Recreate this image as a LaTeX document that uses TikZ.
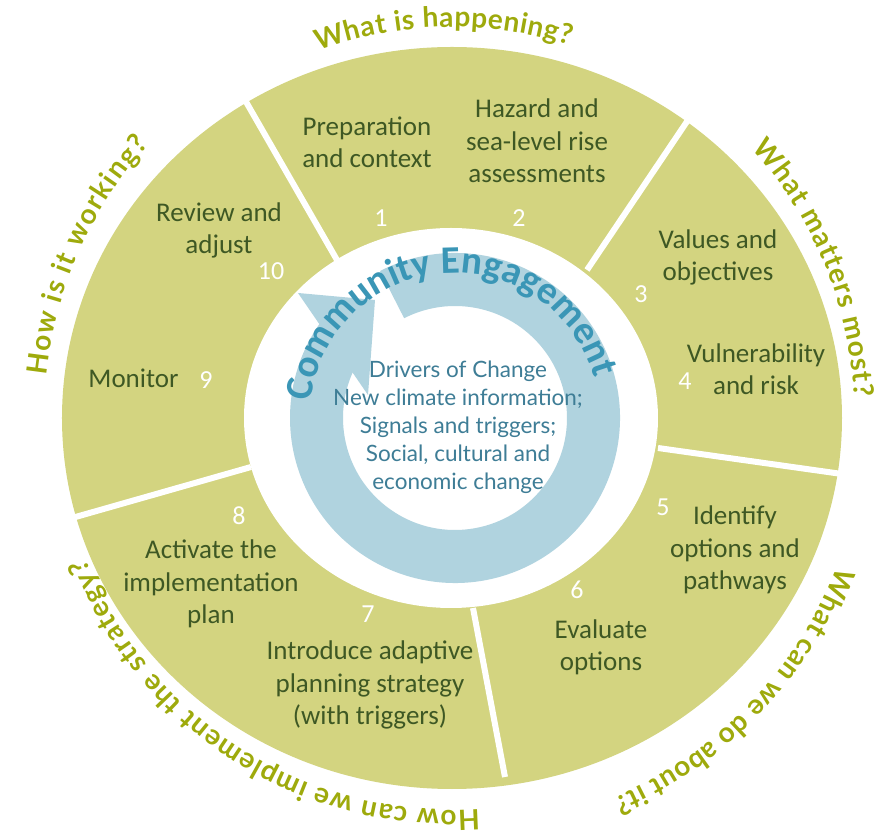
\documentclass[tikz,border=0pt]{standalone}
\usepackage{fontspec}
\setmainfont{Carlito}
\newfontfamily\latofont{Lato}
\usetikzlibrary{calc,decorations.text}

\definecolor{sectorfill}{RGB}{211,212,128}
\definecolor{labelgreen}{RGB}{62,88,36}
\definecolor{questolive}{RGB}{158,170,12}
\definecolor{ringblue}{RGB}{176,211,223}
\definecolor{engageblue}{RGB}{58,150,182}
\definecolor{drivertext}{RGB}{62,125,150}

\newcommand{\questfont}{\latofont\bfseries\fontsize{28}{32}\selectfont\color{questolive}}
\newcommand{\engagefont}{\bfseries\fontsize{39}{46}\selectfont\color{engageblue}}

\tikzset{
  steplabel/.style={text=labelgreen, align=center, inner sep=0pt, font=\fontsize{27}{32.5}\selectfont},
  stepnum/.style={text=white, inner sep=0pt, font=\fontsize{26}{32}\selectfont},
  divider/.style={white, line width=6pt},
  question/.style={decorate, decoration={text along path, text align={fit to path}, text={|\questfont|#1}}}
}

\begin{document}
\begin{tikzpicture}[x=1pt,y=1pt]
		\useasboundingbox (-452,-416) rectangle (434,418);
		
		\coordinate (ctr) at (0,0);
		\coordinate (hole) at (-1,0);
		\coordinate (loop) at (3,0);
		
		% Outer ring with white hole
		\fill[sectorfill] (ctr) ellipse [x radius=390, y radius=371];
		\fill[white] (hole) ellipse [x radius=207, y radius=190];
		
		% Dividers between the steps
		\coordinate (d1in) at (-115,158);
		\coordinate (d1out) at (-207,318);
		\coordinate (d2in) at (135,148);
		\coordinate (d2out) at (236,298);
		\coordinate (d3in) at (206,-30);
		\coordinate (d3out) at (390,-56);
		\coordinate (d4in) at (21,-190);
		\coordinate (d4out) at (53,-359);
		\coordinate (d5in) at (-201,-49);
		\coordinate (d5out) at (-380,-100);
		
		\draw[divider] (d1in) -- (d1out);
		\draw[divider] (d2in) -- (d2out);
		\draw[divider] (d3in) -- (d3out);
		\draw[divider] (d4in) -- (d4out);
		\draw[divider] (d5in) -- (d5out);
		
		% Engagement loop with its head
		\fill[ringblue] ($(loop)+(117:165)$) arc[start angle=117, end angle=-215, radius=165]
			-- ($(loop)+(145:112)$) arc[start angle=145, end angle=477, radius=112] -- cycle;
		\fill[ringblue] ($(loop)+(-157,125)$) -- ($(loop)+(-80,118)$) -- ($(loop)+(-87,23)$) -- cycle;
		
		\path[decorate, decoration={text along path, text align=center, text={|\engagefont|Community Engagement}}]
			($(loop)+(186:145)$) arc[start angle=186, end angle=3, radius=145];
		
		% Questions round the outside
		\path[question={What is happening?}] (110:391) arc[start angle=110, end angle=72.5, radius=391];
		\path[question={What matters most?}] (42:403) arc[start angle=42, end angle=3, radius=403];
		\path[question={What can we do about it?}] (-21:413) arc[start angle=-21, end angle=-67, radius=413];
		\path[question={How can we implement the strategy?}] (-86:392) arc[start angle=-86, end angle=-159, radius=392];
		\path[question={How is it working?}] (174:408) arc[start angle=174, end angle=138, radius=408];
		
		% Step labels
		\node[steplabel] (prep) at (-85,275.5) {Preparation\\and context};
		\node[steplabel] (hazard) at (85,277) {Hazard and\\sea-level rise\\assessments};
		\node[steplabel] (values) at (266,160.5) {Values and\\objectives};
		\node[steplabel] (vuln) at (304,49) {Vulnerability\\and risk};
		\node[steplabel] (identify) at (283,-132) {Identify\\options and\\pathways};
		\node[steplabel] (evaluate) at (149,-229.5) {Evaluate\\options};
		\node[steplabel] (introduce) at (-82,-267) {Introduce adaptive\\planning strategy\\(with triggers)};
		\node[steplabel] (activate) at (-241,-166) {Activate the\\implementation\\plan};
		\node[steplabel] (monitor) at (-318.5,40) {Monitor};
		\node[steplabel] (review) at (-233,187.5) {Review and\\adjust};
		
		% Step numbers
		\node[stepnum] (n1) at (-71,200) {1};
		\node[stepnum] (n2) at (67,200) {2};
		\node[stepnum] (n3) at (189,124) {3};
		\node[stepnum] (n4) at (233,37) {4};
		\node[stepnum] (n5) at (211,-89) {5};
		\node[stepnum] (n6) at (125,-172) {6};
		\node[stepnum] (n7) at (-84,-196) {7};
		\node[stepnum] (n8) at (-213,-98) {8};
		\node[stepnum] (n9) at (-246,38) {9};
		\node[stepnum] (n10) at (-181,147) {10};
		
		% Drivers in the middle
		\node[text=drivertext, align=center, inner sep=0pt, font=\latofont\fontsize{22.5}{28}\selectfont] (drivers) at (6,-9)
			{Drivers of Change\\New climate information;\\Signals and triggers;\\Social, cultural and\\economic change};
		
	\end{tikzpicture}
\end{document}
